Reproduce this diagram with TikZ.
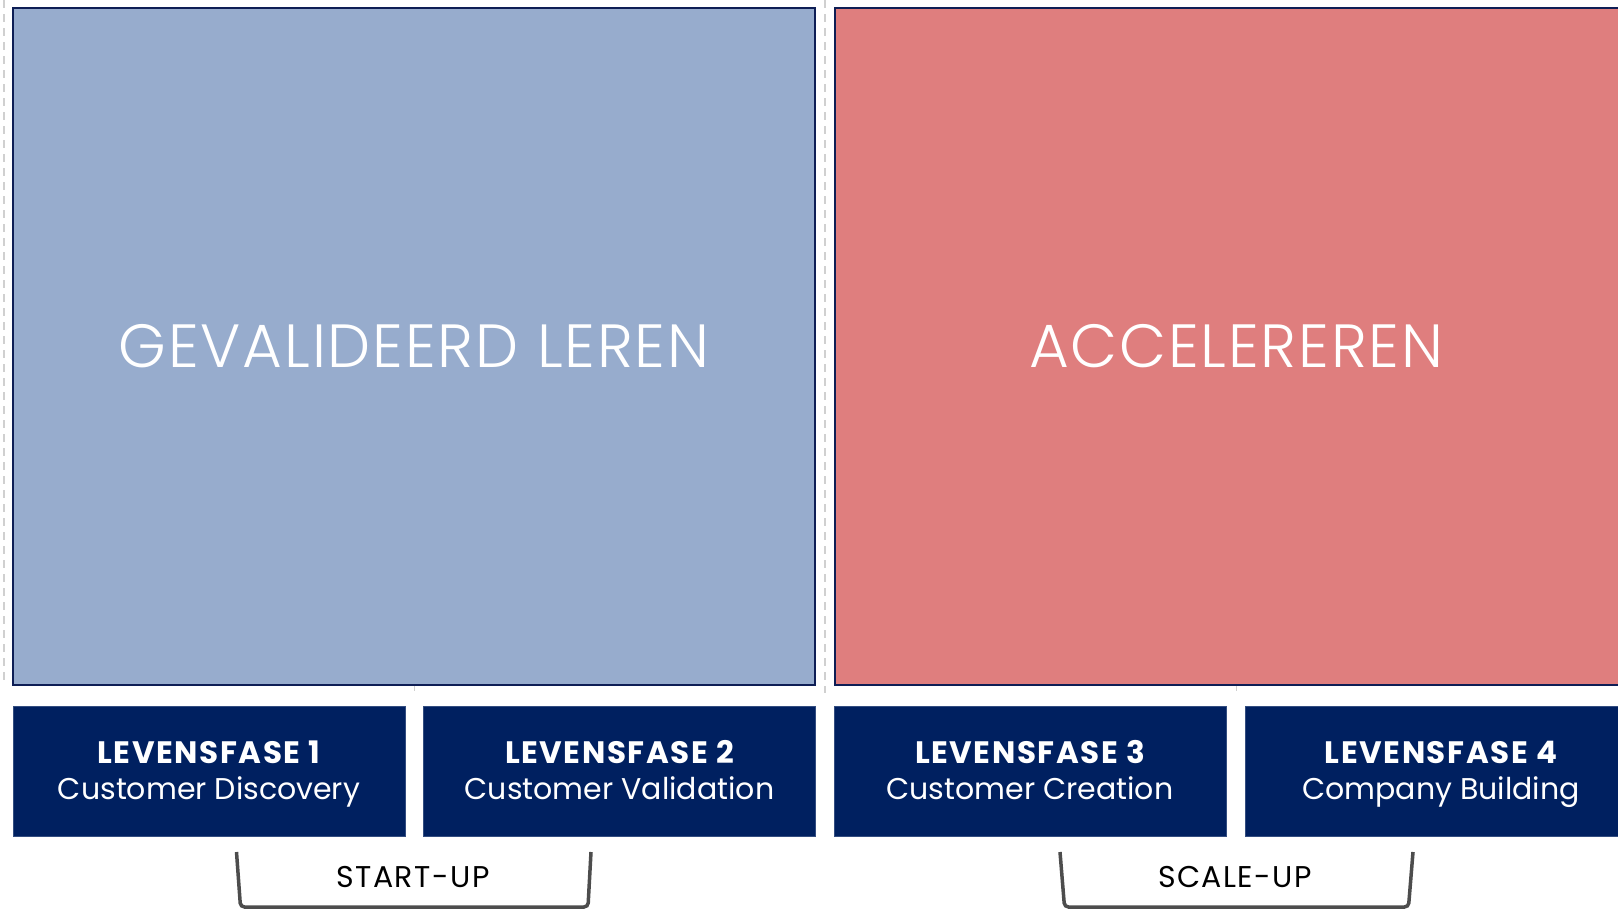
\documentclass[tikz,border=0pt]{standalone}
\usepackage{fontspec}
\setmainfont{Poppins}
\newfontfamily\dunfont[LetterSpace=3]{Poppins Light}
\newfontfamily\breedfont[LetterSpace=5]{Poppins}
\definecolor{lichtblauw}{HTML}{97ACCD}
\definecolor{lichtrood}{HTML}{DF7E7E}
\definecolor{donkerblauw}{HTML}{002060}
\definecolor{rand}{HTML}{0E1E55}
\definecolor{haak}{HTML}{4D4D4D}
\definecolor{streep}{HTML}{D0D0D0}
\tikzset{
  fase_blok/.style = {draw=rand, line width=2.8pt, minimum width=802pt, minimum height=677pt,
    inner sep=0pt, text=white, font=\dunfont\fontsize{61}{63}\selectfont},
  fase_blauw/.style = {fase_blok, fill=lichtblauw},
  fase_rood/.style = {fase_blok, fill=lichtrood},
  fase_kaart/.style = {fill=donkerblauw, draw=donkerblauw!80!white, line width=0.8pt,
    minimum width=392pt, minimum height=130pt, inner sep=0pt, text=white, align=center,
    font=\fontsize{30}{36}\selectfont},
  fase_label/.style = {font=\breedfont\fontsize{30}{32}\selectfont},
  fase_haak/.style = {draw=haak, line width=3.5pt, rounded corners=4pt},
  hulp_lijn/.style = {draw=streep, line width=1.5pt, dash pattern=on 8pt off 6pt},
}
\newcommand{\fase}[2]{{\breedfont\bfseries\fontsize{31}{36}\selectfont #1}\strut\\\smash{#2}\rule[-3.4pt]{0pt}{3.4pt}}

\begin{document}
\begin{tikzpicture}[x=1pt, y=-1pt]
  \useasboundingbox (0,0) rectangle (1618,910);
  % hulplijnen
  \draw [hulp_lijn] (4,0) -- (4,685);
  \draw [hulp_lijn] (825,0) -- (825,693);
  \draw [streep, line width=1pt] (414,685) -- (414,691);
  \draw [streep, line width=1pt] (1236,685) -- (1236,691);

  \node [fase_blauw] (leren) at (414,346.5) {GEVALIDEERD LEREN};
  \node [fase_rood] (versnellen) at (1236,346.5) {ACCELEREREN};

  \node [fase_kaart] (fase1) at (209,771) {\fase{LEVENSFASE 1}{Customer Discovery}};
  \node [fase_kaart] (fase2) at (619.5,771) {\fase{LEVENSFASE 2}{Customer Validation}};
  \node [fase_kaart] (fase3) at (1030,771) {\fase{LEVENSFASE 3}{Customer Creation}};
  \node [fase_kaart] (fase4) at (1441,771) {\fase{LEVENSFASE 4}{Company Building}};

  \node [fase_label] (startup) at (413,877) {START-UP};
  \node [fase_label] (scaleup) at (1235,877) {SCALE-UP};

  \draw [fase_haak] (236.5,852) -- (240.5,907) -- (588,907) -- (591,852);
  \draw [fase_haak] (1060,852) -- (1064.5,907) -- (1408.5,907) -- (1413,852);
\end{tikzpicture}
\end{document}
